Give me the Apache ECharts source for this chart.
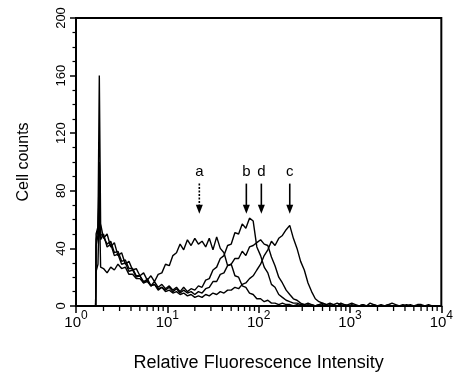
<!DOCTYPE html>
<html><head><meta charset="utf-8">
<script src="https://cdn.jsdelivr.net/npm/echarts@6/dist/echarts.min.js"></script>
<style>html,body{margin:0;padding:0;background:#fff}#c{width:456px;height:378px}</style>
</head><body><div id="c"></div>
<script>
// Fluorescence intensity (x, log scale) shared by all histograms
const intensity = [1, 1.64, 1.66, 1.74, 1.80, 1.86, 2.00, 2.19, 2.40, 2.63, 2.88, 3.16, 3.47, 3.80, 4.17, 4.57, 5.01, 5.50, 6.03, 6.61,
  7.24, 7.94, 8.71, 9.55, 10.5, 11.5, 12.6, 13.8, 15.1, 16.6, 18.2, 20.0, 21.9, 24.0, 26.3, 28.8, 31.6, 34.7, 38.0, 41.7,
  45.7, 50.1, 55.0, 60.3, 66.1, 72.4, 79.4, 87.1, 95.5, 105, 115, 126, 138, 151, 166, 182, 200, 219, 240, 263,
  288, 316, 347, 380, 417, 457, 501, 550, 603, 661, 724, 794, 871, 955, 1047, 1148, 1259, 1380, 1514, 1660,
  1820, 1995, 2188, 2399, 2630, 2884, 3162, 3467, 3802, 4169, 4571, 5012, 5495, 6026, 6607, 7244, 7943, 10000];

// Cell counts per histogram
const countsA = [0, 0, 46, 53, 160, 57, 47, 50, 41, 44, 35, 37, 29, 31, 25, 26, 21, 23, 18, 21,
  17, 22, 23, 29, 28, 35, 37, 43, 39, 46, 42, 47, 43, 45, 41, 47, 39, 48, 40, 37,
  28, 29, 21, 20, 14, 13, 9, 8, 5, 5, 3, 4, 2, 2, 1, 2, 1, 1, 0, 1,
  0, 0, 1, 0, 0, 0, 1, 0, 0, 0, 0, 0, 0, 0, 0, 0, 0, 0, 0, 0,
  0, 0, 0, 0, 0, 0, 0, 0, 0, 0, 0, 0, 0, 0, 0, 0, 0, 0];
const countsB = [0, 0, 42, 49, 100, 46, 50, 41, 43, 35, 36, 29, 30, 24, 25, 20, 21, 16, 19, 14,
  17, 13, 15, 12, 14, 11, 13, 10, 13, 10, 12, 11, 14, 13, 18, 19, 25, 27, 33, 35,
  42, 43, 51, 50, 57, 54, 61, 59, 41, 35, 27, 23, 15, 13, 8, 6, 4, 3, 2, 2,
  1, 1, 0, 1, 0, 1, 0, 0, 1, 0, 0, 0, 1, 0, 0, 0, 0, 0, 0, 0,
  0, 0, 0, 0, 0, 0, 0, 0, 0, 0, 0, 0, 0, 0, 0, 0, 0, 0];
const countsD = [0, 0, 24, 29, 72, 27, 26, 23, 27, 25, 29, 26, 27, 22, 22, 19, 19, 16, 17, 14,
  15, 12, 13, 11, 13, 10, 12, 9, 11, 9, 10, 8, 10, 9, 12, 13, 17, 17, 22, 23,
  28, 29, 33, 33, 38, 35, 41, 42, 44, 46, 43, 42, 34, 28, 20, 16, 11, 8, 5, 4,
  2, 1, 2, 1, 0, 1, 2, 1, 0, 1, 0, 2, 1, 0, 1, 0, 0, 1, 0, 0,
  1, 0, 0, 0, 1, 0, 0, 0, 0, 1, 0, 0, 0, 0, 0, 0, 0, 0];
const countsC = [0, 0, 50, 55, 80, 50, 48, 43, 45, 37, 38, 31, 32, 26, 26, 21, 21, 17, 18, 14,
  15, 11, 13, 10, 11, 9, 10, 8, 9, 7, 8, 6, 7, 6, 8, 7, 9, 8, 10, 9,
  11, 11, 13, 12, 15, 16, 19, 21, 25, 29, 35, 39, 45, 42, 47, 49, 53, 56, 47, 40,
  31, 25, 16, 10, 5, 3, 2, 1, 2, 1, 2, 1, 0, 1, 2, 1, 0, 1, 0, 2,
  1, 0, 1, 0, 1, 2, 1, 0, 1, 0, 1, 0, 1, 1, 0, 1, 0, 0];

// Arrow annotations
const arrowLabels = ['a', 'b', 'd', 'c'];
const arrowX = [22.4, 73.3, 107, 219];
const arrowDashed = [1, 0, 0, 0];
const arrowTipY = 64;
const arrowTopY = 85;

// Axis ticks
const xMinorTicks = [2, 3, 4, 5, 6, 7, 8, 9, 20, 30, 40, 50, 60, 70, 80, 90,
  200, 300, 400, 500, 600, 700, 800, 900, 2000, 3000, 4000, 5000, 6000, 7000, 8000, 9000];
const yMin = 0, yMax = 200, yInterval = 40;

const FONT = 'Liberation Sans, Arial, Helvetica, sans-serif';
const chart = echarts.init(document.getElementById('c'), null, {renderer: 'canvas'});

function hist(vals) {
  return {
    type: 'line', showSymbol: false, symbol: 'none', animation: false,
    lineStyle: {color: '#000', width: 1.4},
    data: intensity.map((x, i) => [x, vals[i]]),
    z: 3
  };
}

chart.setOption({
  animation: false,
  backgroundColor: '#fff',
  grid: {left: 76, right: 9, top: 18, bottom: 72, show: true, borderColor: '#000', borderWidth: 2, backgroundColor: 'transparent'},
  xAxis: {
    type: 'log', logBase: 10, min: 1, max: 10000,
    name: 'Relative Fluorescence Intensity', nameLocation: 'middle', nameGap: 48,
    nameTextStyle: {fontFamily: FONT, fontSize: 18, color: '#000'},
    axisLine: {show: true, lineStyle: {color: '#000', width: 2}},
    axisTick: {show: true, length: 7, inside: false, lineStyle: {color: '#000', width: 1.5}},
    splitLine: {show: false},
    minorTick: {show: false},
    axisLabel: {
      margin: 4, color: '#000',
      formatter: v => '{b|10}{s|' + Math.round(Math.log10(v)) + '}',
      rich: {
        b: {fontFamily: FONT, fontSize: 15, lineHeight: 20, verticalAlign: 'bottom', color: '#000'},
        s: {fontFamily: FONT, fontSize: 12, lineHeight: 12, verticalAlign: 'top', color: '#000'}
      }
    }
  },
  yAxis: {
    type: 'value', min: yMin, max: yMax, interval: yInterval,
    name: 'Cell counts', nameLocation: 'middle', nameGap: 44,
    nameTextStyle: {fontFamily: FONT, fontSize: 16, color: '#000'},
    axisLine: {show: true, lineStyle: {color: '#000', width: 2}},
    axisTick: {show: true, length: 6, lineStyle: {color: '#000', width: 1.5}},
    minorTick: {show: true, splitNumber: 4, length: 3.5, lineStyle: {color: '#000', width: 1.2}},
    splitLine: {show: false},
    axisLabel: {rotate: 90, margin: 8, fontFamily: FONT, fontSize: 13, color: '#000'}
  },
  series: [
    hist(countsA), hist(countsB), hist(countsD), hist(countsC),
    {
      type: 'custom', clip: false, silent: true, z: 5,
      data: xMinorTicks.map(v => [v, 0]),
      renderItem: (params, api) => {
        const p = api.coord([api.value(0), api.value(1)]);
        return {type: 'line', shape: {x1: p[0], y1: p[1] + 1, x2: p[0], y2: p[1] + 5},
          style: {stroke: '#000', lineWidth: 1.3}};
      }
    },
    {
      type: 'custom', clip: false, silent: true, z: 6,
      data: arrowX.map((x, i) => [x, arrowDashed[i], i]),
      renderItem: (params, api) => {
        const x = api.value(0);
        const tip = api.coord([x, arrowTipY]);
        const top = api.coord([x, arrowTopY]);
        const dashed = api.value(1) === 1;
        const name = arrowLabels[api.value(2)];
        return {type: 'group', children: [
          {type: 'line', shape: {x1: tip[0], y1: top[1], x2: tip[0], y2: tip[1] - 7},
            style: {stroke: '#000', lineWidth: 1.6, lineDash: dashed ? [2, 1.5] : null}},
          {type: 'polygon', shape: {points: [[tip[0] - 3.5, tip[1] - 9], [tip[0] + 3.5, tip[1] - 9], [tip[0], tip[1]]]},
            style: {fill: '#000'}},
          {type: 'text', x: tip[0], y: top[1] - 12,
            style: {text: name, fontFamily: FONT, fontSize: 15, fill: '#000', align: 'center', verticalAlign: 'middle'}}
        ]};
      }
    }
  ]
});
</script></body></html>
